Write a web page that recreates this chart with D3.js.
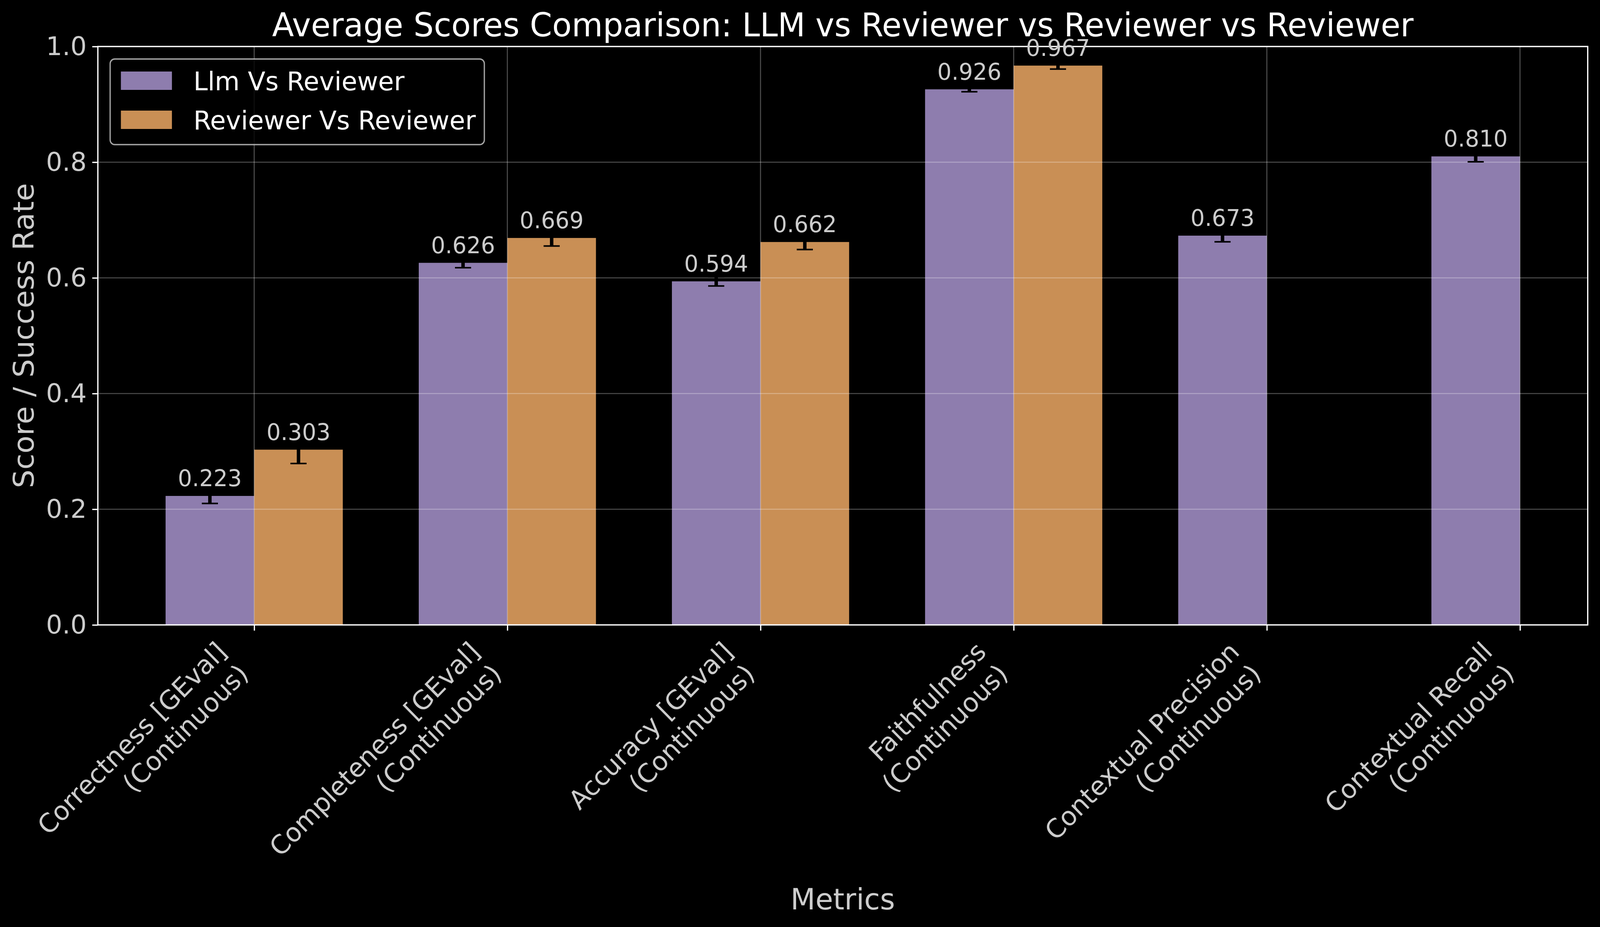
<!DOCTYPE html>
<html>
<head>
<meta charset="utf-8">
<script src="https://cdn.jsdelivr.net/npm/d3@7"></script>
<style>
  html, body { margin: 0; padding: 0; background: #000; overflow: hidden; }
  svg { display: block; }
  svg text { font-family: "DejaVu Sans", sans-serif; }
</style>
</head>
<body>
<div id="chart"></div>
<script>
// data
const categories = [
  ["Correctness [GEval]", "(Continuous)"],
  ["Completeness [GEval]", "(Continuous)"],
  ["Accuracy [GEval]", "(Continuous)"],
  ["Faithfulness", "(Continuous)"],
  ["Contextual Precision", "(Continuous)"],
  ["Contextual Recall", "(Continuous)"]
];
const seriesNames = ["Llm Vs Reviewer", "Reviewer Vs Reviewer"];
const llmScores = [0.223, 0.626, 0.594, 0.926, 0.673, 0.810];
const llmErrors = [0.013, 0.0085, 0.008, 0.0042, 0.0106, 0.0093];
const reviewerScores = [0.303, 0.669, 0.662, 0.967, null, null];
const reviewerErrors = [0.024, 0.014, 0.013, 0.006, null, null];
const yTicks = [0, 0.2, 0.4, 0.6, 0.8, 1.0];

const width = 4169;
const height = 2372;
const marginLeft = 255;
const marginRight = 32;
const marginTop = 119;
const marginBottom = 773;
const barWidth = 0.35;
const colors = ["#8e7dae", "#c98f55"];
const tickLen = 14.6;
const tickPad = 14.6;

const x = d3.scaleLinear()
    .domain([-0.6175, 5.2675])
    .range([marginLeft, width - marginRight]);

const y = d3.scaleLinear()
    .domain([0, 1])
    .range([height - marginBottom, marginTop]);

// viewBox so the whole figure fits whatever viewport the browser gives
const svg = d3.select("#chart")
    .append("svg")
    .attr("viewBox", `0 0 ${width} ${height}`)
    .attr("preserveAspectRatio", "none")
    .style("width", "100vw")
    .style("height", "100vh")
    .style("background", "#000");

// bars
const series = [
  { name: seriesNames[0], values: llmScores, errors: llmErrors, offset: -barWidth, color: colors[0] },
  { name: seriesNames[1], values: reviewerScores, errors: reviewerErrors, offset: 0, color: colors[1] }
];

series.forEach(s => {
    const pts = s.values.map((v, i) => ({ i, v, e: s.errors[i] })).filter(d => d.v != null);
    svg.append("g")
        .selectAll("rect")
        .data(pts)
        .join("rect")
        .attr("x", d => x(d.i + s.offset))
        .attr("width", d => x(d.i + s.offset + barWidth) - x(d.i + s.offset))
        .attr("y", d => y(d.v))
        .attr("height", d => y(0) - y(d.v))
        .attr("fill", s.color);
});

// grid above the bars, like matplotlib's default
const grid = svg.append("g")
    .attr("stroke", "#fff")
    .attr("stroke-opacity", 0.3)
    .attr("stroke-width", 2.7);
grid.selectAll(".h").data(yTicks).join("line")
    .attr("x1", marginLeft).attr("x2", width - marginRight)
    .attr("y1", d => y(d)).attr("y2", d => y(d));
grid.selectAll(".v").data(d3.range(categories.length)).join("line")
    .attr("x1", d => x(d)).attr("x2", d => x(d))
    .attr("y1", marginTop).attr("y2", height - marginBottom);

// error bars
series.forEach(s => {
    const pts = s.values.map((v, i) => ({ i, v, e: s.errors[i] })).filter(d => d.v != null);
    const cx = d => x(d.i + s.offset + barWidth / 2);
    const g = svg.append("g").attr("stroke", "#000");
    g.selectAll(".stem").data(pts).join("line")
        .attr("stroke-width", 9)
        .attr("x1", cx).attr("x2", cx)
        .attr("y1", d => y(d.v - d.e)).attr("y2", d => y(d.v + d.e));
    [-1, 1].forEach(sign => {
        g.selectAll(".cap" + sign).data(pts).join("line")
            .attr("stroke-width", 4)
            .attr("x1", d => cx(d) - 21).attr("x2", d => cx(d) + 21)
            .attr("y1", d => y(d.v + sign * d.e)).attr("y2", d => y(d.v + sign * d.e));
    });
});

// axes
const yAxis = svg.append("g")
    .attr("transform", `translate(${marginLeft},0)`)
    .call(d3.axisLeft(y).tickValues(yTicks).tickFormat(d3.format(".1f"))
        .tickSize(tickLen).tickPadding(tickPad));
yAxis.select(".domain").remove();
yAxis.selectAll(".tick line").attr("stroke", "#fff").attr("stroke-width", 3.3);
yAxis.selectAll(".tick text")
    .attr("fill", "#cccccc")
    .attr("font-size", 66.7)
    .attr("font-family", "DejaVu Sans");

const xAxis = svg.append("g")
    .attr("transform", `translate(0,${height - marginBottom})`)
    .call(d3.axisBottom(x).tickValues(d3.range(categories.length)).tickFormat("")
        .tickSize(tickLen));
xAxis.select(".domain").remove();
xAxis.selectAll(".tick line").attr("stroke", "#fff").attr("stroke-width", 3.3);

// spines
svg.append("rect")
    .attr("x", marginLeft).attr("y", marginTop)
    .attr("width", width - marginRight - marginLeft)
    .attr("height", height - marginBottom - marginTop)
    .attr("fill", "none")
    .attr("stroke", "#fff")
    .attr("stroke-width", 3.3);

// rotated category labels (rotation 45, ha right, like matplotlib)
const labelTop = height - marginBottom + tickLen + tickPad;
const ang = -Math.PI / 4;
categories.forEach((lines, i) => {
    const g = svg.append("g");
    const t = g.append("text")
        .attr("text-anchor", "end")
        .attr("font-size", 66.7)
        .attr("fill", "#cccccc");
    lines.forEach((ln, k) => {
        t.append("tspan").attr("x", 0).attr("dy", k === 0 ? 0 : 66.7 * 1.2).text(ln);
    });
    const bb = t.node().getBBox();
    const corners = [
        [bb.x, bb.y], [bb.x + bb.width, bb.y],
        [bb.x, bb.y + bb.height], [bb.x + bb.width, bb.y + bb.height]
    ].map(([px, py]) => [px * Math.cos(ang) - py * Math.sin(ang), px * Math.sin(ang) + py * Math.cos(ang)]);
    const maxX = d3.max(corners, c => c[0]);
    const minY = d3.min(corners, c => c[1]);
    g.attr("transform", `translate(${x(i) - maxX},${labelTop - minY}) rotate(-45)`);
});

// value labels
series.forEach(s => {
    const pts = s.values.map((v, i) => ({ i, v })).filter(d => d.v != null);
    svg.append("g")
        .selectAll("text")
        .data(pts)
        .join("text")
        .attr("x", d => x(d.i + s.offset + barWidth / 2))
        .attr("y", d => y(d.v) - 25)
        .attr("text-anchor", "middle")
        .attr("font-size", 58.3)
        .attr("fill", "#cccccc")
        .text(d => d3.format(".3f")(d.v));
});

// titles
svg.append("text")
    .attr("x", (marginLeft + width - marginRight) / 2)
    .attr("y", 93)
    .attr("text-anchor", "middle")
    .attr("font-size", 83.3)
    .attr("fill", "#fff")
    .text("Average Scores Comparison: LLM vs Reviewer vs Reviewer vs Reviewer");

svg.append("text")
    .attr("x", (marginLeft + width - marginRight) / 2)
    .attr("y", 2327)
    .attr("text-anchor", "middle")
    .attr("font-size", 75)
    .attr("fill", "#cccccc")
    .text("Metrics");

svg.append("text")
    .attr("transform", `translate(88,${(marginTop + height - marginBottom) / 2}) rotate(-90)`)
    .attr("text-anchor", "middle")
    .attr("font-size", 75)
    .attr("fill", "#cccccc")
    .text("Score / Success Rate");

// legend
const legend = svg.append("g");
legend.append("rect")
    .attr("x", 287).attr("y", 151)
    .attr("width", 975).attr("height", 219)
    .attr("rx", 12).attr("ry", 12)
    .attr("fill", "#000").attr("fill-opacity", 0.8)
    .attr("stroke", "#cccccc").attr("stroke-opacity", 0.8)
    .attr("stroke-width", 3.3);
series.forEach((s, k) => {
    legend.append("rect")
        .attr("x", 315).attr("y", 183 + k * 100)
        .attr("width", 133).attr("height", 47)
        .attr("fill", s.color);
    legend.append("text")
        .attr("x", 504).attr("y", 231 + k * 100)
        .attr("font-size", 66.7)
        .attr("fill", "#fff")
        .text(s.name);
});
</script>
</body>
</html>
